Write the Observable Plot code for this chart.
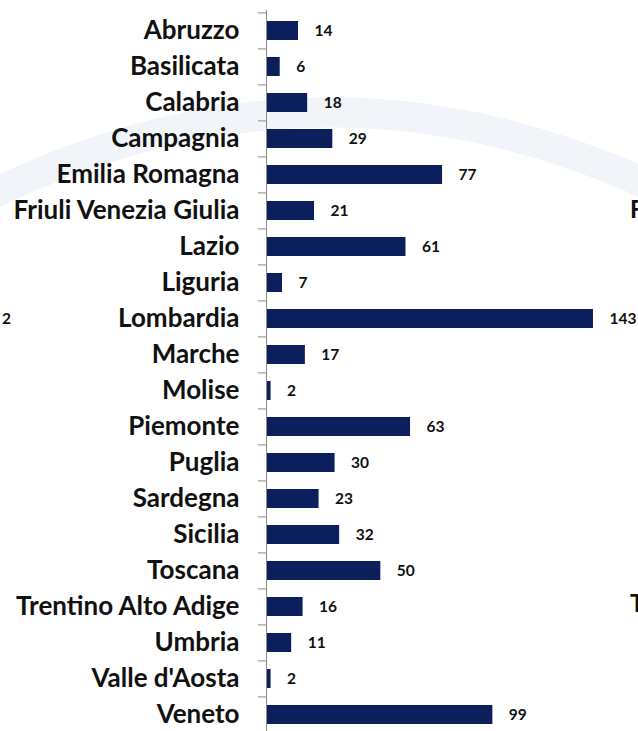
<!DOCTYPE html>
<html>
<head>
<meta charset="utf-8">
<script src="https://cdn.jsdelivr.net/npm/d3@7"></script>
<script src="https://cdn.jsdelivr.net/npm/@observablehq/plot@0.6"></script>
<style>
  html, body { margin: 0; padding: 0; background: #fff; }
  #wrap { position: relative; width: 638px; height: 731px; overflow: hidden; font-family: Lato, "Open Sans", sans-serif; }
  #wm { position: absolute; left: 0; top: 0; z-index: 0; }
  .frag { position: absolute; font-weight: bold; color: #111; line-height: 1; z-index: 2; }
</style>
</head>
<body>
<div id="wrap">
  <svg id="wm" width="638" height="731"><path d="M -20 200 Q 320 30 660 190" fill="none" stroke="#f1f4f8" stroke-width="30"/></svg>
</div>
<script>
const regions = ["Abruzzo","Basilicata","Calabria","Campagnia","Emilia Romagna","Friuli Venezia Giulia","Lazio","Liguria","Lombardia","Marche","Molise","Piemonte","Puglia","Sardegna","Sicilia","Toscana","Trentino Alto Adige","Umbria","Valle d'Aosta","Veneto"];
const values = [14,6,18,29,77,21,61,7,143,17,2,63,30,23,32,50,16,11,2,99];
const data = regions.map((r, i) => ({region: r, value: values[i]}));

const step = (735 - 10) / regions.length;

const chart = Plot.plot({
  width: 638,
  height: 731,
  marginLeft: 266,
  marginRight: 0,
  marginTop: 10,
  marginBottom: 0,
  style: {fontFamily: "Lato, 'Open Sans', sans-serif", background: "transparent", overflow: "visible", position: "relative", zIndex: 1},
  x: {domain: [0, 162.7], axis: null},
  y: {domain: regions, range: [10, 735], paddingInner: 0.48, paddingOuter: 0.24, label: null},
  marks: [
    Plot.barX(data, {x: "value", y: "region", fill: "#0b1f5c"}),
    Plot.ruleY(regions, {y: d => d, x1: -3.5, x2: 0, dy: -step / 2, stroke: "#8c8c8c", strokeWidth: 1}),
    Plot.ruleX([0], {stroke: "#8c8c8c", strokeWidth: 1}),
    Plot.axisY({tickSize: 0, tickPadding: 27, fontSize: 26, fontWeight: "bold", fill: "#111", label: null}),
    Plot.text(data, {x: "value", y: "region", text: d => String(d.value), dx: 16, textAnchor: "start", fontSize: 15.5, fontWeight: "bold", fill: "#111"})
  ]
});
chart.style.position = "relative";
chart.style.zIndex = "1";
const wrap = document.getElementById("wrap");
wrap.appendChild(chart);
const frags = [["2", 2, 311, 15.5], ["F", 630, 197, 24], ["T", 630, 591, 24]];
for (const [t, l, tp, fs] of frags) {
  const s = document.createElement("span");
  s.className = "frag"; s.textContent = t;
  s.style.left = l + "px"; s.style.top = tp + "px"; s.style.fontSize = fs + "px";
  wrap.appendChild(s);
}
</script>
</body>
</html>
